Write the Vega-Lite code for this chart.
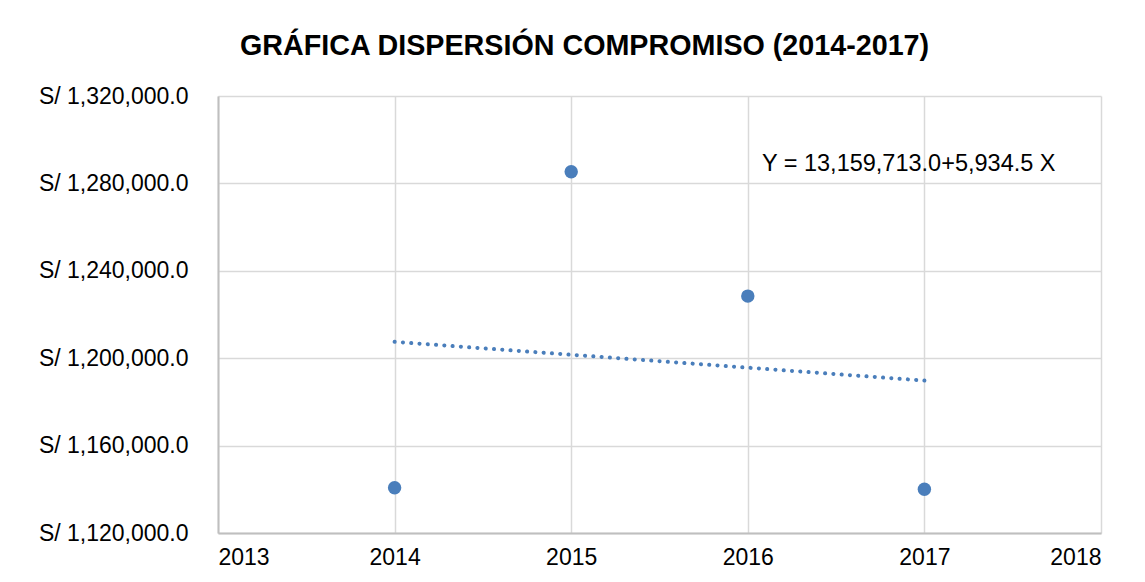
{
  "$schema": "https://vega.github.io/schema/vega-lite/v6.json",
  "width": 883,
  "height": 437,
  "autosize": {"type": "none"},
  "padding": {"left": 218, "top": 96, "right": 44, "bottom": 49},
  "background": "white",
  "title": {
    "text": "GRÁFICA DISPERSIÓN COMPROMISO (2014-2017)",
    "anchor": "middle",
    "dx": -75,
    "offset": 24,
    "font": "Liberation Sans",
    "fontSize": 28.7,
    "fontWeight": "bold",
    "color": "#000000"
  },
  "config": {
    "view": {"stroke": null},
    "font": "Liberation Sans",
    "axis": {
      "labelFont": "Liberation Sans",
      "labelFontSize": 23,
      "labelColor": "#000000",
      "gridColor": "#d9d9d9",
      "gridWidth": 1.5,
      "domainColor": "#bfbfbf",
      "domainWidth": 2,
      "ticks": false,
      "title": null
    }
  },
  "layer": [
    {
      "data": {
        "values": [
          {"anio": 2014, "monto": 1140730},
          {"anio": 2015, "monto": 1285350},
          {"anio": 2016, "monto": 1228420},
          {"anio": 2017, "monto": 1140000}
        ]
      },
      "layer": [
        {
          "mark": {"type": "point", "filled": true, "size": 180, "opacity": 1, "color": "#4a7ebb"},
          "encoding": {
            "x": {
              "field": "anio", "type": "quantitative",
              "scale": {"domain": [2013, 2018], "nice": false, "zero": false},
              "axis": {"values": [2013, 2014, 2015, 2016, 2017, 2018], "format": "d", "labelPadding": 13, "domain": true, "grid": true}
            },
            "y": {
              "field": "monto", "type": "quantitative",
              "scale": {"domain": [1120000, 1320000], "nice": false, "zero": false},
              "axis": {
                "values": [1120000, 1160000, 1200000, 1240000, 1280000, 1320000],
                "labelExpr": "'S/ ' + format(datum.value, ',.1f')",
                "labelPadding": 30
              }
            }
          }
        },
        {
          "transform": [{"regression": "monto", "on": "anio", "extent": [2014, 2017]}],
          "mark": {"type": "line", "color": "#4a7ebb", "strokeWidth": 4, "strokeDash": [0.1, 8.2], "strokeCap": "round"},
          "encoding": {
            "x": {"field": "anio", "type": "quantitative"},
            "y": {"field": "monto", "type": "quantitative"}
          }
        }
      ]
    },
    {
      "data": {"values": [{"ecuacion": "Y = 13,159,713.0+5,934.5 X"}]},
      "mark": {"type": "text", "align": "left", "baseline": "middle", "fontSize": 23.5, "font": "Liberation Sans", "color": "#000000"},
      "encoding": {
        "text": {"field": "ecuacion"},
        "x": {"datum": 2016.08, "type": "quantitative"},
        "y": {"datum": 1288900, "type": "quantitative"}
      }
    }
  ]
}
